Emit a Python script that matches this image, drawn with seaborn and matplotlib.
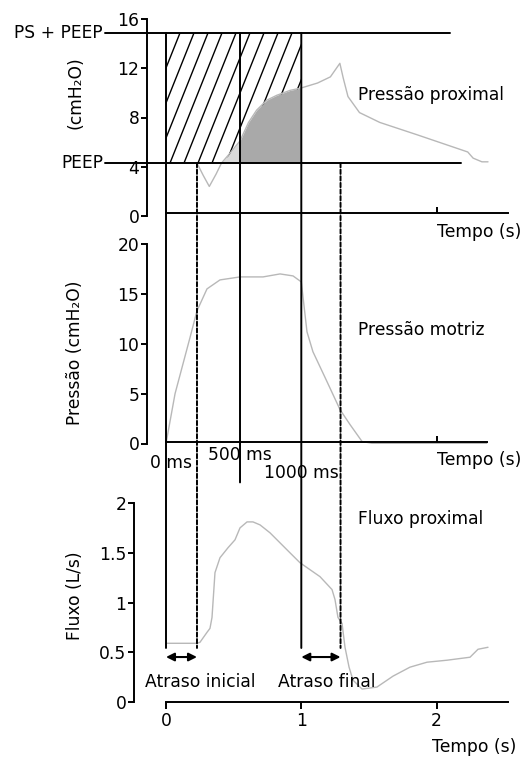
import numpy as np
import matplotlib
matplotlib.use("Agg")
import matplotlib.pyplot as plt
import seaborn as sns
from matplotlib.patches import ConnectionPatch, Rectangle

# ---------------- data ----------------
t_prox = [0.229, 0.275, 0.32, 0.37, 0.41, 0.473, 0.547, 0.61, 0.67, 0.744, 0.818,
          0.916, 1.0, 1.12, 1.215, 1.285, 1.31, 1.345, 1.43, 1.58, 1.855, 2.23,
          2.27, 2.335, 2.38]
p_prox = [4.3, 3.3, 2.4, 3.4, 4.3, 5.1, 6.1, 7.6, 8.6, 9.4, 9.8,
          10.2, 10.4, 10.8, 11.3, 12.4, 11.2, 9.7, 8.4, 7.6, 6.6, 5.2,
          4.7, 4.4, 4.4]

t_motriz = [0, 0.067, 0.177, 0.229, 0.303, 0.399, 0.547, 0.717, 0.843, 0.939,
            1.0, 1.042, 1.086, 1.19, 1.286, 1.36, 1.449, 1.53, 2.37]
p_motriz = [0, 5, 10.6, 13.3, 15.5, 16.4, 16.7, 16.7, 17.0, 16.8,
            16.2, 11.2, 9.2, 6.2, 3.4, 1.9, 0.2, 0, 0]

t_fluxo = [0, 0.229, 0.251, 0.303, 0.325, 0.340, 0.362, 0.399, 0.458, 0.510,
           0.547, 0.599, 0.643, 0.695, 0.769, 0.916, 0.990, 1.138, 1.227, 1.249,
           1.271, 1.301, 1.323, 1.353, 1.382, 1.449, 1.559, 1.678, 1.803, 1.929,
           2.077, 2.247, 2.306, 2.380]
fluxo = [0.59, 0.59, 0.60, 0.70, 0.74, 0.85, 1.30, 1.45, 1.55, 1.63,
         1.75, 1.81, 1.81, 1.78, 1.70, 1.50, 1.40, 1.26, 1.13, 1.03,
         0.85, 0.79, 0.55, 0.35, 0.22, 0.13, 0.15, 0.26, 0.35, 0.40,
         0.42, 0.45, 0.53, 0.55]

PEEP = 4.3
PS_PEEP = 14.87
t_trigger = 0.41            # proximal pressure returns to PEEP
t_marks = [0.0, 0.547, 1.0]  # 0 ms, 500 ms, 1000 ms
mark_labels = ["0 ms", "500 ms", "1000 ms"]
t_delays = [0.229, 1.29]    # start / end of the delays

yticks_top = [0, 4, 8, 12, 16]
yticks_mid = [0, 5, 10, 15, 20]
yticks_bot = [0, 0.5, 1, 1.5, 2]
yticklabels_bot = ["0", "0.5", "1", "1.5", "2"]
xticks_bot = [0, 1, 2]

# ---------------- style ----------------
sns.set_style("ticks")
plt.rcParams["font.family"] = ["DejaVu Sans"]
plt.rcParams["text.color"] = "black"
plt.rcParams["axes.labelcolor"] = "black"
FS = 12.3
CURVE = "#b8b8b8"
LW = 1.4

W, H = 522, 757
fig = plt.figure(figsize=(W / 100, H / 100), dpi=100)


def px_rect(x0, y0, x1, y1):
    return [x0 / W, 1 - y1 / H, (x1 - x0) / W, (y1 - y0) / H]


X0, X1 = 100, 515
T0PX, PXPS = 166, 135.3
xlim = ((X0 - T0PX) / PXPS, (X1 - T0PX) / PXPS)

ax1 = fig.add_axes(px_rect(X0, 19, X1, 216))
ax2 = fig.add_axes(px_rect(X0, 244, X1, 443.5))
ax3 = fig.add_axes(px_rect(X0, 503, X1, 702))

for ax in (ax1, ax2, ax3):
    ax.set_facecolor("none")
    ax.set_xlim(*xlim)
    for s in ("top", "right"):
        ax.spines[s].set_visible(False)
    for s in ("left", "bottom"):
        ax.spines[s].set_linewidth(LW)
        ax.spines[s].set_color("black")
    ax.tick_params(axis="y", direction="out", length=4, width=LW, pad=1.5,
                   labelsize=FS, colors="black")

ax1.set_ylim(0, 16)
ax2.set_ylim(0, 20)
ax3.set_ylim(0, 2)

ax1.spines["left"].set_position(("data", (147 - T0PX) / PXPS))
ax2.spines["left"].set_position(("data", (147 - T0PX) / PXPS))
ax3.spines["left"].set_position(("data", (134 - T0PX) / PXPS))

ax1.spines["bottom"].set_position(("data", 0.27))
ax1.spines["bottom"].set_bounds(0, 2.527)
ax2.spines["bottom"].set_position(("data", 0.2))
ax2.spines["bottom"].set_bounds(0, 2.37)
ax3.spines["bottom"].set_position(("data", 0.0))
ax3.spines["bottom"].set_bounds(0, 2.527)

ax1.set_yticks(yticks_top)
ax2.set_yticks(yticks_mid)
ax3.set_yticks(yticks_bot)
ax3.set_yticklabels(yticklabels_bot)

for ax in (ax1, ax2):
    ax.set_xticks([2])
    ax.tick_params(axis="x", direction="in", length=4, width=LW, labelbottom=False,
                   colors="black")
ax3.set_xticks(xticks_bot)
ax3.set_xticklabels([str(v) for v in xticks_bot])
ax3.tick_params(axis="x", direction="out", length=5, width=LW, pad=2,
                labelsize=FS, colors="black")

# ---------------- top panel: proximal pressure ----------------
rect = Rectangle((t_marks[0], PEEP), t_marks[2] - t_marks[0], PS_PEEP - PEEP,
                 facecolor="white", edgecolor="none", zorder=1)
ax1.add_patch(rect)
spacing = 14 / PXPS
shift = 0.4 * 130 / PXPS
for x0 in np.arange(t_marks[0] - shift, t_marks[2] + spacing, spacing):
    ln, = ax1.plot([x0, x0 + shift], [PEEP, PS_PEEP], color="black", lw=1.0, zorder=2)
    ln.set_clip_path(rect)

tp = np.array(t_prox)
pp = np.array(p_prox)
m_light = (tp >= t_trigger) & (tp <= t_marks[1])
m_dark = (tp >= t_marks[1]) & (tp <= t_marks[2])
ax1.fill_between(tp[m_light], PEEP, pp[m_light], color="#dadada", lw=0, zorder=3)
ax1.fill_between(tp[m_dark], PEEP, pp[m_dark], color="#a9a9a9", lw=0, zorder=3)

sns.lineplot(x=t_prox, y=p_prox, ax=ax1, color=CURVE, lw=1.0, zorder=4)

x_lab = (103 - T0PX) / PXPS
ax1.plot([(105 - T0PX) / PXPS, (450 - T0PX) / PXPS], [PS_PEEP, PS_PEEP],
         color="black", lw=LW, clip_on=False, zorder=5)
ax1.plot([(105 - T0PX) / PXPS, (461 - T0PX) / PXPS], [PEEP, PEEP],
         color="black", lw=LW, clip_on=False, zorder=5)
ax1.text(x_lab, PS_PEEP, "PS + PEEP", ha="right", va="center", fontsize=FS, clip_on=False)
ax1.text(x_lab, PEEP, "PEEP", ha="right", va="center", fontsize=FS, clip_on=False)
ax1.text((358 - T0PX) / PXPS, 9.83, "Pressão proximal", ha="left", va="center", fontsize=FS)
ax1.text((437 - T0PX) / PXPS, -1.3, "Tempo (s)", ha="left", va="center", fontsize=FS,
         clip_on=False)

# ---------------- middle panel: driving pressure ----------------
sns.lineplot(x=t_motriz, y=p_motriz, ax=ax2, color=CURVE, lw=1.0)
ax2.text((358 - T0PX) / PXPS, 11.33, "Pressão motriz", ha="left", va="center", fontsize=FS)
ax2.text((437 - T0PX) / PXPS, -1.7, "Tempo (s)", ha="left", va="center", fontsize=FS,
         clip_on=False)
mark_pos = [((150 - T0PX) / PXPS, -2.0), ((208 - T0PX) / PXPS, -1.2),
            ((264 - T0PX) / PXPS, -3.0)]
for lab, (xx, yy) in zip(mark_labels, mark_pos):
    ax2.text(xx, yy, lab, ha="left", va="center", fontsize=FS, clip_on=False)

# ---------------- bottom panel: proximal flow ----------------
sns.lineplot(x=t_fluxo, y=fluxo, ax=ax3, color=CURVE, lw=1.0)
ax3.text((358 - T0PX) / PXPS, 1.84, "Fluxo proximal", ha="left", va="center", fontsize=FS)
ax3.text((432 - T0PX) / PXPS, -0.45, "Tempo (s)", ha="left", va="center", fontsize=FS,
         clip_on=False)

y_arrow = 0.452
arrow_kw = dict(arrowstyle="<|-|>", color="black", lw=1.5, mutation_scale=12,
                shrinkA=0, shrinkB=0)
ax3.annotate("", xy=(t_delays[0], y_arrow), xytext=(t_marks[0], y_arrow),
             arrowprops=arrow_kw)
ax3.annotate("", xy=(t_delays[1], y_arrow), xytext=(t_marks[2], y_arrow),
             arrowprops=arrow_kw)
ax3.text((145 - T0PX) / PXPS, 0.20, "Atraso inicial", ha="left", va="center", fontsize=FS)
ax3.text((278 - T0PX) / PXPS, 0.20, "Atraso final", ha="left", va="center", fontsize=FS)

for ax in (ax1, ax2, ax3):
    ax.set_xlabel("")

# ---------------- y labels ----------------
ax1.set_ylabel("(cmH₂O)", fontsize=FS, ha="center", va="center")
ax1.yaxis.set_label_coords((75 - X0) / (X1 - X0), (216 - 93) / 197)
ax2.set_ylabel("Pressão (cmH₂O)", fontsize=FS, ha="center", va="center")
ax2.yaxis.set_label_coords((75 - X0) / (X1 - X0), (443.5 - 353) / 199.5)
ax3.set_ylabel("Fluxo (L/s)", fontsize=FS, ha="center", va="center")
ax3.yaxis.set_label_coords((75 - X0) / (X1 - X0), (702 - 596) / 199)

# ---------------- vertical event lines across panels ----------------
y_line_end = 0.543
for t in (t_marks[0], t_marks[2]):
    fig.add_artist(ConnectionPatch(xyA=(t, PS_PEEP), coordsA=ax1.transData,
                                   xyB=(t, y_line_end), coordsB=ax3.transData,
                                   color="black", lw=LW))
fig.add_artist(ConnectionPatch(xyA=(t_marks[1], PS_PEEP), coordsA=ax1.transData,
                               xyB=(t_marks[1], -3.9), coordsB=ax2.transData,
                               color="black", lw=LW))
for t in t_delays:
    fig.add_artist(ConnectionPatch(xyA=(t, PEEP), coordsA=ax1.transData,
                                   xyB=(t, y_line_end), coordsB=ax3.transData,
                                   color="black", lw=LW, linestyle=(0, (2.2, 1.2))))

fig.savefig("out.png", dpi=100)
